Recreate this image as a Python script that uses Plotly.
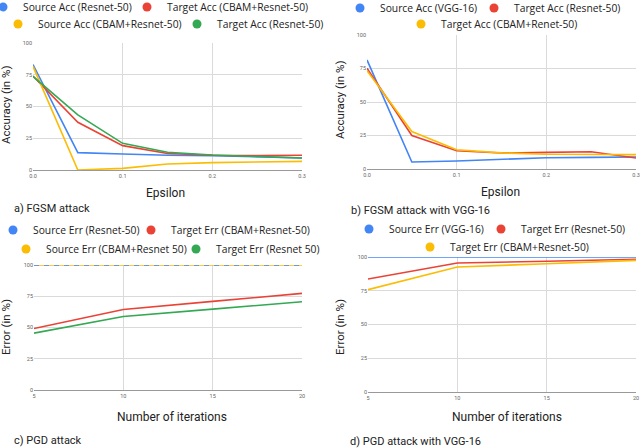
import plotly.graph_objects as go

# ---- data ----
eps = [0.0, 0.05, 0.1, 0.15, 0.2, 0.25, 0.3]
iters = [5, 10, 15, 20]

# a) FGSM attack
a_src_resnet = [83, 13.7, 12.6, 11.6, 11.3, 10.5, 9.5]
a_tgt_cbam = [74, 37.6, 19.2, 13, 11.6, 11.3, 11.6]
a_src_cbam = [81.6, 0, 1.3, 4.7, 5.8, 6.3, 6.8]
a_tgt_resnet = [73.7, 43.4, 21, 14, 11.8, 10.8, 9.5]

# b) FGSM attack with VGG-16
b_src_vgg = [81.4, 5.2, 6, 7.2, 8.4, 8.7, 9]
b_tgt_resnet = [75.2, 25, 13.6, 11.9, 12.4, 12.9, 8.2]
b_tgt_cbam = [73.4, 28, 14.4, 12, 11, 10.7, 10.7]

# c) PGD attack
c_src_resnet = [100, 100, 100, 100]
c_tgt_cbam = [49.2, 64.4, 70.9, 77.3]
c_src_cbam = [100, 100, 100, 100]
c_tgt_resnet = [45.5, 58.8, 64.7, 70.6]

# d) PGD attack with VGG-16
d_src_vgg = [100, 100, 100, 100]
d_tgt_resnet = [83.7, 95.6, 96.8, 98.3]
d_tgt_cbam = [75.8, 92.6, 95, 97.5]

BLUE = "#4285F4"
RED = "#EA4335"
YELLOW = "#FBBC04"
GREEN = "#34A853"

W, H = 640, 448


def px(x):
    return x / W


def py(y):
    return 1 - y / H


fig = go.Figure()


def line(x, y, color, ax, dash="solid"):
    fig.add_trace(go.Scatter(
        x=x, y=y, mode="lines", showlegend=False, hoverinfo="skip",
        line=dict(color=color, width=1.6, dash=dash),
        xaxis="x" + ax, yaxis="y" + ax,
    ))


# panel a
line(eps, a_src_resnet, BLUE, "")
line(eps, a_tgt_cbam, RED, "")
line(eps, a_src_cbam, YELLOW, "")
line(eps, a_tgt_resnet, GREEN, "")
# panel b
line(eps, b_src_vgg, BLUE, "2")
line(eps, b_tgt_resnet, RED, "2")
line(eps, b_tgt_cbam, YELLOW, "2")
# panel c
line(iters, c_src_cbam, YELLOW, "3")
line(iters, c_src_resnet, BLUE, "3", dash="5px,5px")
line(iters, c_tgt_cbam, RED, "3")
line(iters, c_tgt_resnet, GREEN, "3")
# panel d
line(iters, d_src_vgg, BLUE, "4")
line(iters, d_tgt_resnet, RED, "4")
line(iters, d_tgt_cbam, YELLOW, "4")

# legend entries: (name, colour, dot x, dot y) -- one small legend each
legend_items = [
    ("Source Acc (Resnet-50)", BLUE, 6, 7),
    ("Target Acc (CBAM+Resnet-50)", RED, 150, 7),
    ("Source Acc (CBAM+Resnet-50)", YELLOW, 21, 24),
    ("Target Acc (Resnet-50)", GREEN, 200, 24),
    ("Source Acc (VGG-16)", BLUE, 363, 8),
    ("Target Acc (Resnet-50)", RED, 497, 8),
    ("Target Acc (CBAM+Renet-50)", YELLOW, 424, 24),
    ("Source Err (Resnet-50)", BLUE, 16, 230),
    ("Target Err (CBAM+Resnet-50)", RED, 154, 230),
    ("Source Err (CBAM+Resnet 50)", YELLOW, 29, 249),
    ("Target Err (Resnet 50)", GREEN, 199, 249),
    ("Source Err (VGG-16)", BLUE, 372, 229),
    ("Target Err (Resnet-50)", RED, 504, 229),
    ("Target Err (CBAM+Resnet-50)", YELLOW, 433, 247),
]

font_main = "Roboto, Arial, sans-serif"
legend_font = dict(family="Open Sans, sans-serif", size=10.3, color="#222222")

legends = {}
for i, (name, color, lx, ly) in enumerate(legend_items):
    key = "legend" if i == 0 else "legend%d" % (i + 1)
    fig.add_trace(go.Scatter(
        x=[None], y=[None], mode="markers", name=name, legend=key,
        marker=dict(color=color, size=9),
    ))
    legends[key] = dict(
        x=px(lx - 23), y=py(ly), xanchor="left", yanchor="middle",
        orientation="h", bgcolor="rgba(0,0,0,0)", borderwidth=0,
        itemclick=False, font=legend_font,
    )

axis_common = dict(
    showgrid=True, gridcolor="#dadada", gridwidth=1,
    zeroline=False, showline=False, ticks="",
    tickfont=dict(family=font_main, size=5.5, color="#666666"),
)

fig.update_layout(
    width=W, height=H,
    margin=dict(l=0, r=0, t=0, b=0, autoexpand=False),
    paper_bgcolor="white", plot_bgcolor="white",
    font=dict(family=font_main, color="#222222"),
    xaxis=dict(domain=[px(33), px(302)], range=[0, 0.3], dtick=0.1, tickformat=".1f",
               anchor="y", **axis_common),
    yaxis=dict(domain=[py(170), py(43)], range=[0, 100], dtick=25, anchor="x", **axis_common),
    xaxis2=dict(domain=[px(367), px(636)], range=[0, 0.3], dtick=0.1, tickformat=".1f",
                anchor="y2", **axis_common),
    yaxis2=dict(domain=[py(169), py(35)], range=[0, 100], dtick=25, anchor="x2", **axis_common),
    xaxis3=dict(domain=[px(34), px(302)], range=[5, 20], dtick=5, anchor="y3", **axis_common),
    yaxis3=dict(domain=[py(390), py(265)], range=[0, 100], dtick=25, anchor="x3", **axis_common),
    xaxis4=dict(domain=[px(368), px(636)], range=[5, 20], dtick=5, anchor="y4", **axis_common),
    yaxis4=dict(domain=[py(392), py(257)], range=[0, 100], dtick=25, anchor="x4", **axis_common),
    **legends,
)

# bottom axis lines
for ax in ["xaxis", "xaxis2", "xaxis3", "xaxis4"]:
    fig.layout[ax].showline = True
    fig.layout[ax].linecolor = "#999999"
    fig.layout[ax].linewidth = 1

cap_font = dict(family=font_main, size=11, color="#222222")
title_font = dict(family=font_main, size=11.5, color="#222222")
xtitle_font = dict(family=font_main, size=12, color="#222222")


def text(x, y, s, font, angle=0, xanchor="center"):
    fig.add_annotation(
        x=px(x), y=py(y), xref="paper", yref="paper", text=s, showarrow=False,
        xanchor=xanchor, yanchor="middle", textangle=angle, font=font,
    )


# axis titles
text(6, 105, "Accuracy (in %)", title_font, angle=-90)
text(165, 193, "Epsilon", xtitle_font)
text(340, 100, "Accuracy (in %)", title_font, angle=-90)
text(500, 192, "Epsilon", xtitle_font)
text(6, 327, "Error (in %)", title_font, angle=-90)
text(172, 417, "Number of iterations", xtitle_font)
text(340, 327, "Error (in %)", title_font, angle=-90)
text(507, 417, "Number of iterations", xtitle_font)

# captions
text(12, 208, "a) FGSM attack", cap_font, xanchor="left")
text(349, 210, "b) FGSM attack with VGG-16", cap_font, xanchor="left")
text(12, 440, "c) PGD attack", cap_font, xanchor="left")
text(348, 441, "d) PGD attack with VGG-16", cap_font, xanchor="left")

# the page body has a default 8px margin; drop it so the figure fills the window
fig.write_html("out.html", config={"displayModeBar": False},
               post_script="document.body.style.margin='0';")
